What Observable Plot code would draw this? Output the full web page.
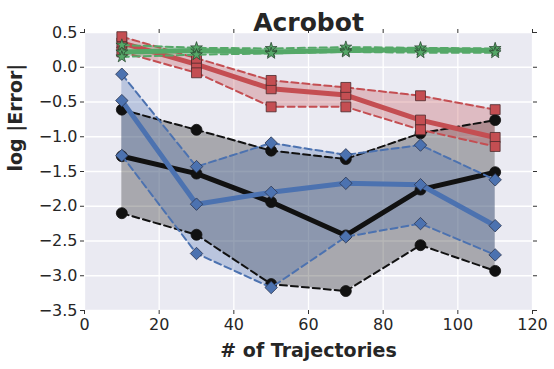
<!DOCTYPE html>
<html><head><meta charset="utf-8">
<script src="https://cdn.jsdelivr.net/npm/d3@7"></script>
<script src="https://cdn.jsdelivr.net/npm/@observablehq/plot@0.6"></script>
<style>body{margin:0;background:#fff} svg{font-family:"DejaVu Sans",sans-serif}</style>
</head><body><div id="chart"></div>
<script>
const trajectories = [10, 30, 50, 70, 90, 110];

const blackMean  = [-1.28, -1.53, -1.94, -2.42, -1.76, -1.51];
const blackUpper = [-0.61, -0.90, -1.20, -1.32, -0.95, -0.76];
const blackLower = [-2.10, -2.41, -3.12, -3.22, -2.56, -2.93];

const blueMean  = [-0.48, -1.97, -1.80, -1.67, -1.69, -2.28];
const blueUpper = [-0.10, -1.43, -1.09, -1.26, -1.12, -1.62];
const blueLower = [-1.27, -2.68, -3.17, -2.44, -2.25, -2.70];

const redMean  = [0.35, 0.04, -0.31, -0.40, -0.76, -1.01];
const redUpper = [0.44, 0.13, -0.19, -0.29, -0.41, -0.61];
const redLower = [0.22, -0.08, -0.57, -0.57, -0.90, -1.14];

const greenMean  = [0.22, 0.24, 0.22, 0.24, 0.25, 0.24];
const greenUpper = [0.32, 0.28, 0.27, 0.29, 0.28, 0.27];
const greenLower = [0.15, 0.18, 0.20, 0.22, 0.21, 0.21];

const xTicks = [0, 20, 40, 60, 80, 100, 120];
const yTicks = [0.5, 0.0, -0.5, -1.0, -1.5, -2.0, -2.5, -3.0, -3.5];

const seriesDefs = [
  {color: "#111111", edge: "#111111", symbol: "circle", r: 5.5, mean: blackMean, upper: blackUpper, lower: blackLower},
  {color: "#4C72B0", edge: "#2a3550", symbol: "diamond2", r: 5.6, mean: blueMean, upper: blueUpper, lower: blueLower},
  {color: "#C44E52", edge: "#4a2a2c", symbol: "square", r: 5.6, mean: redMean, upper: redUpper, lower: redLower},
  {color: "#55A868", edge: "#2d4a33", symbol: "star", r: 3.7, mean: greenMean, upper: greenUpper, lower: greenLower}
];

const marks = [
  Plot.frame({fill: "#EAEAF2"}),
  Plot.gridX({ticks: xTicks, stroke: "#ffffff", strokeOpacity: 1, strokeWidth: 1.3}),
  Plot.gridY({ticks: yTicks, stroke: "#ffffff", strokeOpacity: 1, strokeWidth: 1.3})
];

const tables = seriesDefs.map(s => trajectories.map((x, i) => ({x, mean: s.mean[i], upper: s.upper[i], lower: s.lower[i]})));

seriesDefs.forEach((s, k) => {
  marks.push(Plot.areaY(tables[k], {x: "x", y1: "lower", y2: "upper", fill: s.color, fillOpacity: 0.3}));
});

seriesDefs.forEach((s, k) => {
  const rows = tables[k];
  marks.push(Plot.line(rows, {x: "x", y: "mean", stroke: s.color, strokeWidth: 5}));
  marks.push(Plot.dot(rows, {x: "x", y: "mean", symbol: s.symbol, r: s.r, fill: s.color, stroke: s.edge, strokeWidth: 0.8}));
  for (const key of ["upper", "lower"]) {
    marks.push(Plot.line(rows, {x: "x", y: key, stroke: s.color, strokeWidth: 2, strokeDasharray: "7,4"}));
    marks.push(Plot.dot(rows, {x: "x", y: key, symbol: s.symbol, r: s.r, fill: s.color, stroke: s.edge, strokeWidth: 0.8}));
  }
});

marks.push(
  Plot.axisX({ticks: xTicks, tickSize: 4, tickPadding: 4, fontSize: 16, label: null, stroke: "#333", color: "#262626"}),
  Plot.axisX({anchor: "top", ticks: xTicks, tickSize: 4, tickFormat: () => "", label: null, stroke: "#333"}),
  Plot.axisY({ticks: yTicks, tickSize: 4, tickPadding: 3, fontSize: 16, tickFormat: d3.format(".1f"), label: null, stroke: "#333", color: "#262626"}),
  Plot.axisY({anchor: "right", ticks: yTicks, tickSize: 4, tickFormat: () => "", label: null, stroke: "#333"}),
  Plot.text(["Acrobot"], {frameAnchor: "top", dy: -19, fontSize: 25, fontWeight: "bold", fill: "#262626"}),
  Plot.text(["# of Trajectories"], {frameAnchor: "bottom", dy: 46, fontSize: 19, fontWeight: "bold", fill: "#262626"}),
  Plot.text(["log |Error|"], {frameAnchor: "left", dx: -69, rotate: -90, fontSize: 19, fontWeight: "bold", fill: "#262626"})
);

const chart = Plot.plot({
  width: 554,
  height: 369,
  marginLeft: 84,
  marginRight: 22,
  marginTop: 32,
  marginBottom: 59,
  style: {background: "#ffffff", fontFamily: "DejaVu Sans", overflow: "visible"},
  x: {domain: [0, 120]},
  y: {domain: [-3.5, 0.5]},
  marks
});
document.getElementById("chart").append(chart);
</script>
</body></html>
